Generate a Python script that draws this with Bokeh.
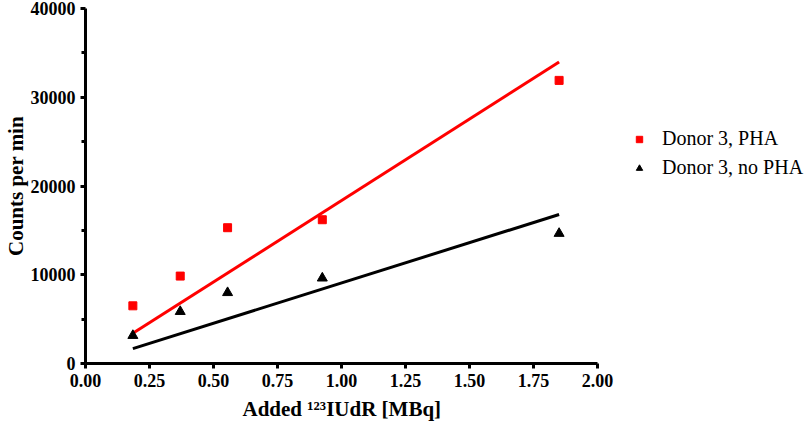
from bokeh.plotting import figure
from bokeh.models import Range1d, FixedTicker, NumeralTickFormatter, Legend, LegendItem, Title
from bokeh.embed import file_html
from bokeh.resources import INLINE

# Data
activity_mbq = [0.185, 0.37, 0.555, 0.925, 1.85]
cpm_pha = [6500, 9850, 15300, 16200, 31900]
cpm_no_pha = [3150, 5850, 7980, 9620, 14650]
label_pha = "Donor 3, PHA"
label_no_pha = "Donor 3, no PHA"
x_label = "Added \u00b9\u00b2\u00b3IUdR [MBq]"
y_label = "Counts per min"
x_ticks = [0.0, 0.25, 0.5, 0.75, 1.0, 1.25, 1.5, 1.75, 2.0]
y_ticks = [0, 10000, 20000, 30000, 40000]
y_minor = [5000, 15000, 25000, 35000]
x_axis_bounds = (0.0, 2.0)


def fit_through_origin(xs, ys):
    sxy = sum(a * b for a, b in zip(xs, ys))
    sxx = sum(a * a for a in xs)
    return sxy / sxx


fx = [min(activity_mbq), max(activity_mbq)]
k_pha = fit_through_origin(activity_mbq, cpm_pha)
k_no = fit_through_origin(activity_mbq, cpm_no_pha)

FONT = "Liberation Serif"

# frame extends past x=2 so the legend can sit inside it; axis is bounded to 0..2
AXIS_PX = 512
FRAME_W = 722
x_end = x_axis_bounds[1] * FRAME_W / AXIS_PX

p = figure(frame_width=FRAME_W, frame_height=355, x_range=Range1d(0, x_end), y_range=Range1d(0, 40000),
           output_backend="svg", toolbar_location=None,
           min_border_left=80, min_border_top=8, min_border_right=0, min_border_bottom=62)
p.outline_line_color = None
p.xgrid.grid_line_color = None
p.ygrid.grid_line_color = None

p.line(fx, [k_pha * v for v in fx], line_color="#ff0000", line_width=3)
p.line(fx, [k_no * v for v in fx], line_color="black", line_width=3)
r1 = p.scatter(activity_mbq, cpm_pha, marker="square", size=8, fill_color="#ff0000", line_color="#ff0000")
r2 = p.scatter(activity_mbq, cpm_no_pha, marker="triangle", size=10, fill_color="black", line_color="black")

for ax in (p.xaxis[0], p.yaxis[0]):
    ax.axis_line_width = 3
    ax.major_tick_line_width = 3
    ax.minor_tick_line_width = 3
    ax.major_tick_in = 0
    ax.major_tick_out = 5
    ax.minor_tick_in = 0
    ax.minor_tick_out = 4
    ax.major_label_text_font = FONT
    ax.major_label_text_font_style = "bold"
    ax.major_label_text_font_size = "18px"
    ax.major_label_text_color = "black"
    ax.axis_label_text_font = FONT
    ax.axis_label_text_font_style = "bold"
    ax.axis_label_text_font_size = "21px"
    ax.axis_label_text_color = "black"

p.xaxis[0].ticker = FixedTicker(ticks=x_ticks)
p.xaxis[0].bounds = x_axis_bounds
p.xaxis[0].minor_tick_line_color = None
p.xaxis[0].formatter = NumeralTickFormatter(format="0.00")
p.xaxis[0].major_label_standoff = 5

p.yaxis[0].ticker = FixedTicker(ticks=y_ticks, minor_ticks=y_minor)
p.yaxis[0].formatter = NumeralTickFormatter(format="0")
p.yaxis[0].major_label_standoff = 5
p.yaxis[0].axis_label_standoff = 0
p.yaxis[0].axis_label = y_label

# x-axis title centred under the bounded (0..2) axis rather than the whole frame
xt = Title(text=x_label, align="left", offset=157, text_font=FONT, text_font_style="bold",
           text_font_size="21px", text_color="black", standoff=10)
p.add_layout(xt, "below")

legend = Legend(items=[LegendItem(label=label_pha, renderers=[r1]),
                       LegendItem(label=label_no_pha, renderers=[r2])],
                location=(546, 184), padding=0, margin=0, spacing=6,
                glyph_width=16, glyph_height=22, label_height=22, label_standoff=15,
                border_line_color=None, background_fill_alpha=0,
                label_text_font=FONT, label_text_font_size="20px", label_text_color="black")
p.add_layout(legend, "center")

open("out.html", "w").write(file_html(p, INLINE))
